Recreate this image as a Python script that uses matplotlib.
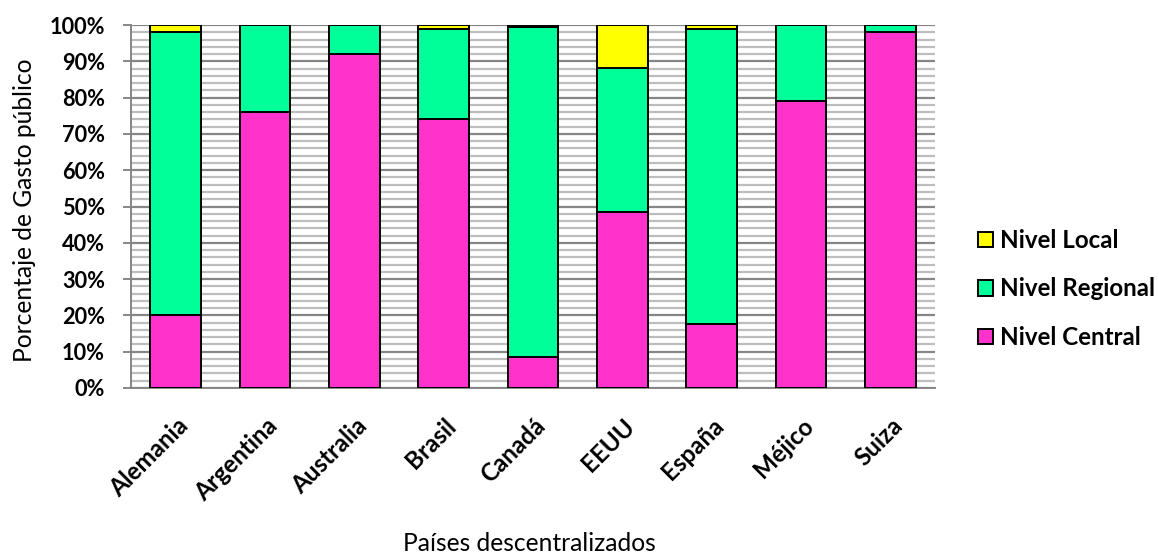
import numpy as np
import matplotlib.pyplot as plt
from matplotlib.ticker import MultipleLocator, PercentFormatter
from matplotlib.transforms import ScaledTranslation

plt.rcParams['font.family'] = ['Lato', 'DejaVu Sans']

paises = ["Alemania", "Argentina", "Australia", "Brasil", "Canadá",
          "EEUU", "España", "Méjico", "Suiza"]
central = [20, 76, 92, 74, 8.6, 48.6, 17.5, 79, 98]
regional = [78, 24, 8, 25, 90.9, 39.6, 81.5, 21, 2]
local = [2, 0, 0, 1, 0.5, 11.8, 1, 0, 0]

c_central = "#FF33CC"
c_regional = "#00FF99"
c_local = "#FFFF00"

W, H = 1159, 556
fig = plt.figure(figsize=(W / 100, H / 100), dpi=100)
ax = fig.add_axes([131 / W, 1 - 388 / H, (935 - 131) / W, (388 - 25) / H])
renderer = fig.canvas.get_renderer()


def text_size(s, fs, weight="normal"):
    t = fig.text(0, 0, s, fontsize=fs, fontweight=weight)
    bb = t.get_window_extent(renderer=renderer)
    t.remove()
    return bb.width, bb.height


def size_for(s, target_px, weight="normal", base=20):
    # font size (pt) that gives the text a given width in pixels
    w, _ = text_size(s, base, weight)
    return base * target_px / w


fs_tick = size_for("100%", 56, "bold")
fs_xtick = size_for("Alemania", 100, "bold")
fs_leg = size_for("Nivel Regional", 155, "bold")
fs_title = size_for("Países descentralizados", 254)

x = np.arange(len(paises))
central = np.array(central)
regional = np.array(regional)
local = np.array(local)
w = 0.57
ec = "black"
lw = 1.4

b1 = ax.bar(x, central, w, color=c_central, edgecolor=ec, linewidth=lw,
            label="Nivel Central", zorder=3)
b2 = ax.bar(x, regional, w, bottom=central, color=c_regional, edgecolor=ec,
            linewidth=lw, label="Nivel Regional", zorder=3)
b3 = ax.bar(x, local, w, bottom=central + regional, color=c_local,
            edgecolor=ec, linewidth=lw, label="Nivel Local", zorder=3)

ax.set_xlim(-0.5, len(paises) - 0.5)
ax.set_ylim(0, 100)
ax.yaxis.set_major_locator(MultipleLocator(10))
ax.yaxis.set_minor_locator(MultipleLocator(2))
ax.yaxis.set_major_formatter(PercentFormatter(decimals=0))

ax.grid(True, which="minor", axis="y", color="#bdbdbd", linewidth=1.6, zorder=0)
ax.grid(True, which="major", axis="y", color="#868686", linewidth=1.6, zorder=1)

ax.tick_params(axis="y", which="major", direction="out", length=5.8,
               width=1.4, color="#868686", labelsize=fs_tick, pad=13)
ax.tick_params(axis="y", which="minor", length=0)
ax.tick_params(axis="x", length=0, pad=18.8)

for s in ["top", "right"]:
    ax.spines[s].set_visible(False)
for s in ["left", "bottom"]:
    ax.spines[s].set_color("#868686")
    ax.spines[s].set_linewidth(1.4)

for lab in ax.get_yticklabels():
    lab.set_fontweight("bold")

ax.set_xticks(x)
ax.set_xticklabels(paises, rotation=45, ha="right", va="top",
                   rotation_mode="anchor", fontsize=fs_xtick, fontweight="bold")
shift = ScaledTranslation(0.5 / 100, 0, fig.dpi_scale_trans)
for lab in ax.get_xticklabels():
    lab.set_transform(lab.get_transform() + shift)

ax.set_ylabel("Porcentaje de Gasto público", fontsize=fs_title)
ax.yaxis.set_label_coords(-0.118, 0.489)
ax.set_xlabel("Países descentralizados", fontsize=fs_title)
ax.xaxis.set_label_coords(0.496, -0.397)

# legend: 15 px squares, rows about 48 px apart
fpx = fs_leg * 100 / 72
_, leg_h = text_size("Nivel Regional", fs_leg, "bold")
handles = [b3, b2, b1]
leg = ax.legend(handles, [h.get_label() for h in handles],
                loc="center left", bbox_to_anchor=(977.5 / W, 1 - 289 / H),
                bbox_transform=fig.transFigure, frameon=False,
                prop={"size": fs_leg, "weight": "bold"},
                handlelength=15 / fpx, handleheight=15 / fpx,
                handletextpad=7 / fpx, labelspacing=(48.5 - leg_h) / fpx,
                borderpad=0, borderaxespad=0)

fig.savefig("out.png", dpi=100)
